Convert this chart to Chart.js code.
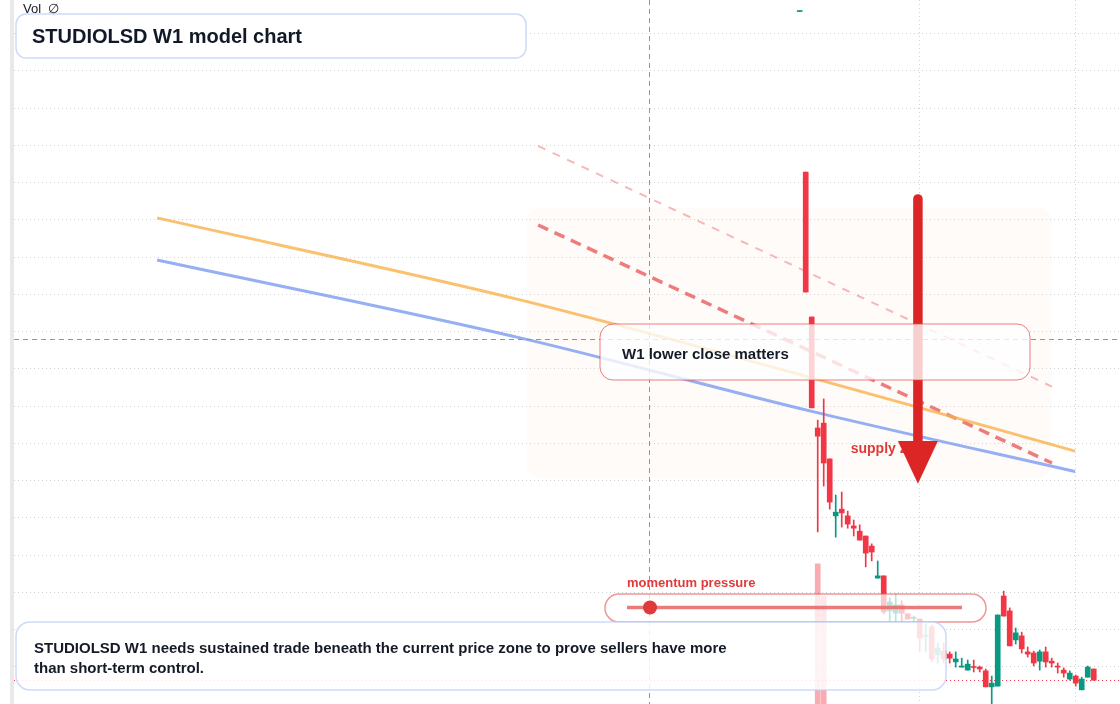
<!DOCTYPE html>
<html>
<head>
<meta charset="utf-8">
<script src="https://cdn.jsdelivr.net/npm/chart.js@4.4.1/dist/chart.umd.min.js"></script>
<style>
  html, body { margin: 0; padding: 0; background: #fff; }
  #wrap { position: relative; width: 1120px; height: 704px; }
</style>
</head>
<body>
<div id="wrap"><canvas id="chart"></canvas></div>
<script>
// Weekly candles (index = bar number), prices
const OPEN  = [185.9, 142.8, 103.9, 74.1, 75.4, 65.8, 50.5, 52.3, 50.5, 47.8,
               46.4, 45.1, 42.4, 33.8, 34.4, 25.0, 24.4, 26.6, 24.2, 23.0,
               22.8, 18.2, 20.7, 13.2, 14.2, 13.4, 11.3, 9.9, 9.1, 10.0,
               9.9, 8.9, 4.6, 4.8, 29.0, 25.0, 17.2, 18.3, 14.0, 13.7,
               11.5, 14.0, 11.5, 10.2, 9.1, 6.7, 7.5, 3.8, 7.2, 9.4];
const HIGH  = [186.1, 142.8, 103.9, 76.2, 81.9, 65.8, 56.1, 56.9, 51.8, 49.4,
               48.1, 45.1, 43.0, 38.4, 34.4, 28.5, 29.5, 27.7, 24.2, 23.6,
               22.8, 21.5, 21.2, 16.4, 16.4, 14.0, 14.0, 12.3, 11.8, 11.8,
               10.2, 9.4, 7.5, 23.9, 30.3, 25.8, 20.4, 19.3, 15.3, 14.2,
               14.5, 15.3, 12.3, 11.0, 9.7, 8.9, 7.8, 7.2, 10.2, 9.4];
const LOW   = [185.9, 110.6, 79.5, 46.2, 58.5, 52.3, 44.8, 47.5, 47.2, 45.1,
               44.0, 36.8, 38.4, 33.8, 24.2, 22.3, 22.3, 22.0, 22.8, 22.3,
               14.0, 14.0, 11.3, 11.0, 11.0, 11.0, 9.9, 9.9, 9.1, 8.6,
               8.6, 4.6, -1.0, 4.8, 23.6, 15.6, 16.1, 13.7, 12.6, 10.2,
               9.1, 9.9, 9.9, 8.3, 7.2, 6.4, 4.8, 3.8, 7.2, 6.4];
const CLOSE = [186.1, 110.6, 79.5, 71.9, 64.7, 54.2, 51.5, 51.3, 48.3, 47.2,
               44.0, 40.5, 40.8, 34.4, 24.7, 27.4, 26.6, 24.4, 22.8, 23.2,
               17.7, 18.4, 12.1, 15.0, 12.1, 12.3, 12.1, 10.2, 10.7, 9.8,
               9.4, 4.6, 5.6, 23.9, 23.6, 15.6, 19.1, 14.8, 13.4, 11.0,
               14.0, 11.3, 11.0, 9.9, 8.3, 8.3, 5.6, 6.7, 9.9, 6.4];
const VOLUME_BARS = [3, 4];
const VOLUME      = [19.9, 15.3];

// moving averages (bar index, price)
const MA_X    = [-107.1, -46.6, 2.2, 45.9];
const MA_FAST = [130.5, 108.5, 87.5, 67.9];
const MA_SLOW = [119.2, 98.3, 78.5, 62.4];

// supply trend lines
const TREND_X     = [-43.6, 42.05];
const TREND_MAIN  = [128.6, 64.7];
const TREND_OUTER = [149.8, 85.2];

const PRICE_TICKS = [0, 10, 20, 30, 40, 50, 60, 70, 80, 90, 100, 110, 120, 130, 140, 150, 160, 170, 180];
const TIME_TICKS  = [20, 46];

const UP = '#089981', DOWN = '#f23645';
const candleColor = i => CLOSE[i] >= OPEN[i] ? UP : DOWN;

const bodies = OPEN.map((o, i) => ({ x: i, y: [o, CLOSE[i]] }));
const wicks  = LOW.map((l, i) => ({ x: i, y: [l, HIGH[i]] }));
const vols   = VOLUME_BARS.map((b, k) => ({ x: b, y: VOLUME[k] }));
const line = (xs, ys) => xs.map((x, i) => ({ x, y: ys[i] }));

const FONT = "'Liberation Sans', Arial, sans-serif";

// annotation layout
const notes = {
  zone:   { x0: -45.5, x1: 42.05, top: 133.2, bottom: 60.7 },
  arrow:  { x: 19.7, top: 135.6, head: 70.6, tip: 59.1 },
  supply: { x: 8.5, y: 68.3, text: 'supply zone' },
  cross:  { x: -25.1, y: 98.0 },
};

function box(ctx, x, y, w, h, r, fill, stroke, lw) {
  ctx.beginPath();
  ctx.roundRect(x, y, w, h, r);
  ctx.fillStyle = fill;
  ctx.fill();
  ctx.lineWidth = lw;
  ctx.strokeStyle = stroke;
  ctx.stroke();
}

const overlay = {
  id: 'overlay',
  beforeDatasetsDraw(chart) {
    const { ctx, chartArea: a, scales: { x, y } } = chart;
    const z = notes.zone;
    ctx.save();
    const zx = x.getPixelForValue(z.x0), zy = y.getPixelForValue(z.top);
    ctx.beginPath();
    ctx.roundRect(zx, zy, x.getPixelForValue(z.x1) - zx, y.getPixelForValue(z.bottom) - zy, 14);
    ctx.fillStyle = 'rgba(250,228,212,0.15)';
    ctx.fill();

    // crosshair
    ctx.strokeStyle = 'rgba(110,112,120,0.75)';
    ctx.lineWidth = 1;
    ctx.setLineDash([5, 4]);
    const cx = Math.round(x.getPixelForValue(notes.cross.x)) + 0.5;
    const cy = Math.round(y.getPixelForValue(notes.cross.y)) + 0.5;
    ctx.beginPath();
    ctx.moveTo(cx, a.top); ctx.lineTo(cx, a.bottom);
    ctx.moveTo(a.left, cy); ctx.lineTo(a.right, cy);
    ctx.stroke();

    // last price line
    const lp = Math.round(y.getPixelForValue(CLOSE[CLOSE.length - 1])) + 0.5;
    ctx.strokeStyle = DOWN;
    ctx.setLineDash([1, 3]);
    ctx.beginPath();
    ctx.moveTo(a.left, lp); ctx.lineTo(a.right, lp);
    ctx.stroke();
    ctx.restore();
  },
  afterDatasetsDraw(chart) {
    const { ctx, scales: { x, y } } = chart;
    ctx.save();

    // supply label
    ctx.font = `bold 14px ${FONT}`;
    ctx.fillStyle = '#e03a3a';
    ctx.textBaseline = 'middle';
    ctx.fillText(notes.supply.text, x.getPixelForValue(notes.supply.x), y.getPixelForValue(notes.supply.y));

    // arrow
    const ar = notes.arrow;
    const ax = x.getPixelForValue(ar.x);
    const aTop = y.getPixelForValue(ar.top), aHead = y.getPixelForValue(ar.head), aTip = y.getPixelForValue(ar.tip);
    ctx.strokeStyle = '#dc2626';
    ctx.fillStyle = '#dc2626';
    ctx.lineWidth = 9.5;
    ctx.lineCap = 'round';
    ctx.beginPath();
    ctx.moveTo(ax, aTop); ctx.lineTo(ax, aHead + 4);
    ctx.stroke();
    ctx.beginPath();
    ctx.moveTo(ax - 20, aHead); ctx.lineTo(ax + 20, aHead); ctx.lineTo(ax, aTip);
    ctx.closePath();
    ctx.fill();
    ctx.lineCap = 'butt';

    // callout
    box(ctx, 600, 324, 430, 56, 13, 'rgba(255,255,255,0.78)', 'rgba(226,72,72,0.7)', 1);
    ctx.font = `bold 15px ${FONT}`;
    ctx.fillStyle = '#151b26';
    ctx.fillText('W1 lower close matters', 622, 354.5);

    // momentum gauge
    box(ctx, 605, 594, 381, 28, 14, 'rgba(255,255,255,0.72)', 'rgba(232,96,96,0.65)', 1.5);
    ctx.strokeStyle = 'rgba(232,100,100,0.85)';
    ctx.lineWidth = 3.5;
    ctx.beginPath();
    ctx.moveTo(627, 607.5); ctx.lineTo(962, 607.5);
    ctx.stroke();
    ctx.fillStyle = '#e03a3a';
    ctx.beginPath();
    ctx.arc(650, 607.5, 7, 0, Math.PI * 2);
    ctx.fill();
    ctx.font = `bold 13px ${FONT}`;
    ctx.fillText('momentum pressure', 627, 583);

    // summary
    box(ctx, 16, 622, 930, 68, 14, 'rgba(255,255,255,0.86)', 'rgba(190,210,245,0.8)', 1.5);
    ctx.font = `bold 15px ${FONT}`;
    ctx.fillStyle = '#151b26';
    ctx.fillText('STUDIOLSD W1 needs sustained trade beneath the current price zone to prove sellers have more', 34, 648.5);
    ctx.fillText('than short-term control.', 34, 668.5);

    // title
    box(ctx, 16, 14, 510, 44, 10, '#ffffff', 'rgba(190,210,245,0.8)', 1.5);
    ctx.font = `bold 20px ${FONT}`;
    ctx.fillStyle = '#111827';
    ctx.fillText('STUDIOLSD W1 model chart', 32, 37.5);

    ctx.font = `13px ${FONT}`;
    ctx.fillStyle = '#131722';
    ctx.fillText('Vol  \u2205', 23, 9.5);

    // pane separator
    ctx.fillStyle = '#e9e9ea';
    ctx.fillRect(10, 0, 4, 704);
    ctx.restore();
  },
};

new Chart(document.getElementById('chart'), {
  type: 'bar',
  data: {
    datasets: [
      {
        label: 'body', data: bodies, order: 1, grouped: false,
        barThickness: 5, minBarLength: 1,
        backgroundColor: c => candleColor(c.dataIndex),
      },
      {
        label: 'wick', data: wicks, order: 2, grouped: false,
        barThickness: 1,
        backgroundColor: c => candleColor(c.dataIndex),
      },
      {
        label: 'Vol', data: vols, order: 3, grouped: false, yAxisID: 'yv',
        barThickness: 5, backgroundColor: 'rgba(242,54,69,0.42)',
      },
      {
        type: 'line', label: 'MA fast', data: line(MA_X, MA_FAST), order: 4,
        borderColor: 'rgba(248,176,70,0.78)', borderWidth: 3, pointRadius: 0,
        cubicInterpolationMode: 'monotone',
      },
      {
        type: 'line', label: 'MA slow', data: line(MA_X, MA_SLOW), order: 4,
        borderColor: 'rgba(120,152,240,0.78)', borderWidth: 3, pointRadius: 0,
        cubicInterpolationMode: 'monotone',
      },
      {
        type: 'line', label: 'trend', data: line(TREND_X, TREND_MAIN), order: 5,
        borderColor: 'rgba(232,82,82,0.75)', borderWidth: 3.5, borderDash: [11, 7], pointRadius: 0,
      },
      {
        type: 'line', label: 'trend outer', data: line(TREND_X, TREND_OUTER), order: 5,
        borderColor: 'rgba(240,130,130,0.55)', borderWidth: 2, borderDash: [8, 8], pointRadius: 0,
      },
    ],
  },
  options: {
    responsive: true,
    maintainAspectRatio: false,
    animation: false,
    layout: { padding: { left: 14, right: 0, top: 0, bottom: 0 } },
    scales: {
      x: {
        type: 'linear', min: -130.95, max: 53.38, offset: false,
        afterBuildTicks: s => { s.ticks = TIME_TICKS.map(v => ({ value: v })); },
        afterFit: s => { s.height = 0; },
        ticks: { display: false },
        grid: { color: 'rgba(140,145,155,0.42)', drawTicks: false, offset: false },
        border: { display: false, dash: [1, 3] },
      },
      y: {
        min: 0, max: 189,
        afterBuildTicks: s => { s.ticks = PRICE_TICKS.map(v => ({ value: v })); },
        afterFit: s => { s.width = 0; },
        ticks: { display: false },
        grid: { color: 'rgba(140,145,155,0.42)', drawTicks: false },
        border: { display: false, dash: [1, 3] },
      },
      yv: { display: false, min: 0, max: 100 },
    },
    plugins: {
      legend: { display: false },
      tooltip: { enabled: false },
    },
  },
  plugins: [overlay],
});
</script>
</body>
</html>
